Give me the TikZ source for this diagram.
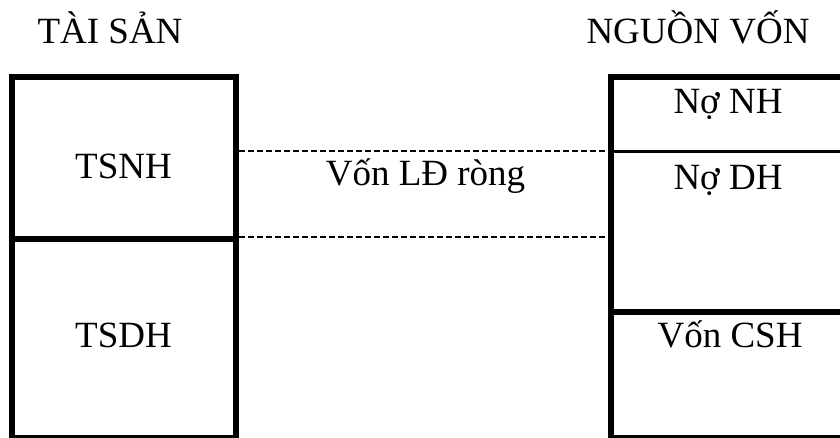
\documentclass[tikz,border=0pt]{standalone}
\usepackage{fontspec}
\setmainfont{Liberation Serif}
\begin{document}
\begin{tikzpicture}[x=1pt,y=-1pt,
  lbl/.style={anchor=base,inner sep=0pt,font=\fontsize{37}{44}\selectfont},
  thickline/.style={line width=6pt},
  thinline/.style={line width=3pt},
  dashline/.style={line width=2pt,dash pattern=on 6pt off 3pt}]
\useasboundingbox (0,0) rectangle (840,437);
% left column
\draw[thickline] (12,440) -- (12,76.5) -- (236,76.5) -- (236,440);
\draw[thickline] (9,239) -- (239,239);
\draw[thickline] (9,437.5) -- (239,437.5);
% right column
\draw[thickline] (610.5,440) -- (610.5,77) -- (845,77);
\draw[thinline] (610.5,151) -- (845,151);
\draw[thickline] (608,312) -- (845,312);
\draw[thickline] (608,437.5) -- (845,437.5);
% coordinates for dashed connectors
\coordinate (l1) at (239,151);
\coordinate (r1) at (608,151);
\coordinate (l2) at (239,237);
\coordinate (r2) at (608,237);
\draw[dashline] (l1) -- (r1);
\draw[dashline] (l2) -- (r2);
% texts
\node[lbl] (ts) at (110,43) {TÀI SẢN};
\node[lbl] (nv) at (698,43) {NGUỒN VỐN};
\node[lbl] (tsnh) at (123.5,178) {TSNH};
\node[lbl] (tsdh) at (123.5,347) {TSDH};
\node[lbl] (nonh) at (728,113) {Nợ NH};
\node[lbl] (nodh) at (728,189) {Nợ DH};
\node[lbl] (vld) at (425.5,185) {Vốn LĐ ròng};
\node[lbl] (csh) at (730,347) {Vốn CSH};
\end{tikzpicture}
\end{document}
